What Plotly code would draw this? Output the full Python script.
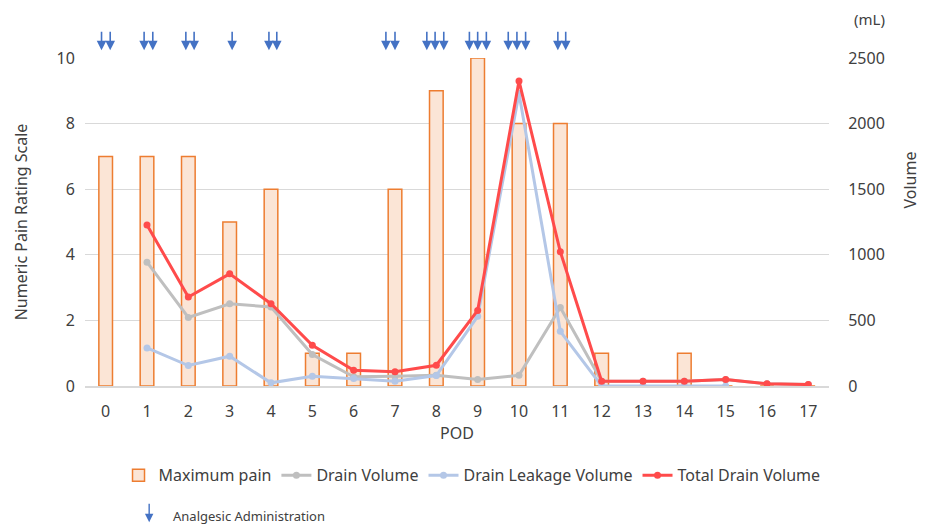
import plotly.graph_objects as go

pod = list(range(18))
max_pain = [7, 7, 7, 5, 6, 1, 1, 6, 9, 10, 8, 8, 1, 0, 1, 0, 0, 0]
drain_volume = [None, 944, 523, 627, 602, 240, 70, 75, 82, 49, 82, 599, 37, 37, 37, 49, 17, 11]
leak_volume = [None, 290, 156, 227, 24, 75, 57, 37, 80, 531, 2229, 417, 0, 0, 0, 0, None, None]
total_volume = [None, 1228, 678, 855, 627, 310, 120, 108, 158, 576, 2325, 1023, 37, 37, 37, 49, 17, 11]
# analgesic administration times (POD)
analgesic_times = [-0.10, 0.11, 0.93, 1.14, 1.94, 2.14, 3.06, 3.95, 4.14,
                   6.78, 7.00, 7.77, 7.97, 8.18, 8.80, 9.00, 9.21,
                   9.74, 9.95, 10.16, 10.94, 11.13]

FONT = "Noto Sans"
TXT = "#404040"

# page-pixel geometry of the plot area (page body has an 8px margin)
PL, PR, PT, PB = 85.4, 828.6, 57.7, 386.5
W, H = 917, 518


def px(x):
    return (x - PL) / (PR - PL)


def py(y):
    return (PB - y) / (PB - PT)


fig = go.Figure()
fig.add_trace(go.Bar(x=pod, y=max_pain, name="Maximum pain", width=0.33,
                     marker=dict(color="#FBE5D6", line=dict(color="#ED7D31", width=1.5)),
                     yaxis="y"))
fig.add_trace(go.Scatter(x=pod, y=drain_volume, name="Drain Volume", mode="lines+markers",
                         line=dict(color="#BFBFBF", width=3), marker=dict(size=7),
                         yaxis="y2"))
fig.add_trace(go.Scatter(x=pod, y=leak_volume, name="Drain Leakage Volume", mode="lines+markers",
                         line=dict(color="#B4C7E7", width=3), marker=dict(size=7),
                         yaxis="y2"))
fig.add_trace(go.Scatter(x=pod, y=total_volume, name="Total Drain Volume", mode="lines+markers",
                         line=dict(color="#FF4B4B", width=3), marker=dict(size=7),
                         yaxis="y2"))

anns = []
for t in analgesic_times:
    anns.append(dict(x=t, y=py(50), xref="x", yref="paper", text="", showarrow=True,
                     ax=0, ay=-20, arrowhead=2, arrowsize=1.2, arrowwidth=1.6,
                     arrowcolor="#4472C4"))
# legend entry for arrows
anns.append(dict(x=px(149.5), y=py(523), xref="paper", yref="paper",
                 text="", showarrow=True, ax=0, ay=-20, arrowhead=2, arrowsize=1.2,
                 arrowwidth=1.4, arrowcolor="#4472C4"))
anns.append(dict(x=px(171), y=py(516.5), xref="paper", yref="paper",
                 text="Analgesic Administration", showarrow=False, xanchor="left", yanchor="middle",
                 font=dict(family=FONT, size=13, color=TXT)))
anns.append(dict(x=px(869.5), y=py(19), xref="paper", yref="paper",
                 text="(mL)", showarrow=False, xanchor="center", yanchor="middle",
                 font=dict(family=FONT, size=15, color=TXT)))
anns.append(dict(x=px(910), y=py(180), xref="paper", yref="paper",
                 text="Volume", showarrow=False, textangle=-90, xanchor="center", yanchor="middle",
                 font=dict(family=FONT, size=16, color=TXT)))

fig.update_layout(
    width=W, height=H,
    margin=dict(l=PL - 8, r=W + 8 - PR, t=PT - 8, b=H + 8 - PB),
    paper_bgcolor="white", plot_bgcolor="white",
    font=dict(family=FONT, size=16, color=TXT),
    barmode="overlay",
    xaxis=dict(range=[-0.5, 17.5], tickmode="array", tickvals=pod, ticktext=[str(p) for p in pod],
               showgrid=False, showline=True, linecolor="#D9D9D9", linewidth=1.5,
               title=dict(text="POD", font=dict(size=16), standoff=3),
               tickfont=dict(size=16), zeroline=False, ticks="outside", ticklen=10,
               tickcolor="rgba(0,0,0,0)"),
    yaxis=dict(range=[0, 10], dtick=2, showgrid=True, gridcolor="#D9D9D9", gridwidth=1.3,
               zeroline=False, tickfont=dict(size=16), ticks="outside", ticklen=6,
               tickcolor="rgba(0,0,0,0)",
               title=dict(text="Numeric Pain Rating Scale", font=dict(size=16), standoff=24)),
    yaxis2=dict(range=[0, 2500], dtick=500, overlaying="y", side="right", showgrid=False,
                zeroline=False, tickfont=dict(size=16), ticks="outside", ticklen=15,
                tickcolor="rgba(0,0,0,0)"),
    legend=dict(orientation="h", x=px(472), xanchor="center", y=py(476),
                yanchor="middle", font=dict(family=FONT, size=16, color=TXT),
                itemwidth=30, traceorder="normal"),
    annotations=anns,
    showlegend=True,
)
fig.write_html("out.html")
